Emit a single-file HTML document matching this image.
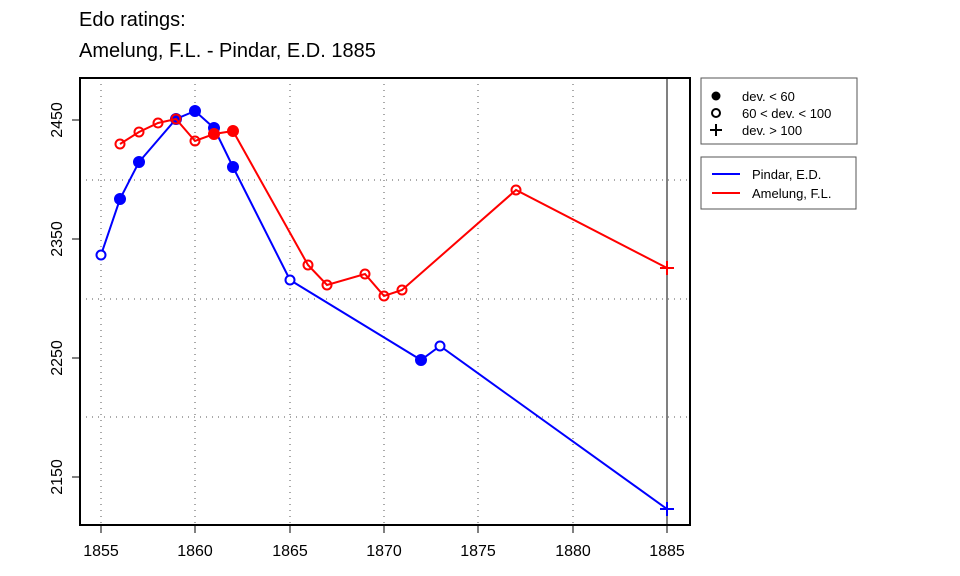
<!DOCTYPE html>
<html><head><meta charset="utf-8"><style>body{margin:0;background:#fff}svg{display:block}</style></head><body>
<svg width="960" height="576" xmlns="http://www.w3.org/2000/svg" font-family="Liberation Sans, sans-serif">
<rect width="960" height="576" fill="#fff"/>
<text x="79" y="26" font-size="20">Edo ratings:</text>
<text x="79" y="57" font-size="20">Amelung, F.L. - Pindar, E.D. 1885</text>
<g stroke="#555" stroke-dasharray="1,5" stroke-width="1">
<line x1="101" y1="78" x2="101" y2="525"/><line x1="195" y1="78" x2="195" y2="525"/><line x1="290" y1="78" x2="290" y2="525"/><line x1="384" y1="78" x2="384" y2="525"/><line x1="478" y1="78" x2="478" y2="525"/><line x1="573" y1="78" x2="573" y2="525"/>
<line x1="80" y1="180" x2="690" y2="180"/><line x1="80" y1="299" x2="690" y2="299"/><line x1="80" y1="417" x2="690" y2="417"/>
</g>
<line x1="667" y1="78" x2="667" y2="525" stroke="#000" stroke-width="1"/>
<rect x="80" y="78" width="610" height="447" fill="none" stroke="#000" stroke-width="2"/>
<g stroke="#000" stroke-width="1">
<line x1="101" y1="525" x2="101" y2="533"/><line x1="195" y1="525" x2="195" y2="533"/><line x1="290" y1="525" x2="290" y2="533"/><line x1="384" y1="525" x2="384" y2="533"/><line x1="478" y1="525" x2="478" y2="533"/><line x1="573" y1="525" x2="573" y2="533"/><line x1="667" y1="525" x2="667" y2="533"/>
<line x1="72" y1="120" x2="80" y2="120"/><line x1="72" y1="239" x2="80" y2="239"/><line x1="72" y1="358" x2="80" y2="358"/><line x1="72" y1="477" x2="80" y2="477"/>
</g>
<g font-size="16" text-anchor="middle">
<text x="101" y="556">1855</text><text x="195" y="556">1860</text><text x="290" y="556">1865</text><text x="384" y="556">1870</text><text x="478" y="556">1875</text><text x="573" y="556">1880</text><text x="667" y="556">1885</text>
<text transform="translate(62,120) rotate(-90)">2450</text><text transform="translate(62,239) rotate(-90)">2350</text><text transform="translate(62,358) rotate(-90)">2250</text><text transform="translate(62,477) rotate(-90)">2150</text>
</g>
<g stroke="#00f" stroke-width="2" fill="#00f">
<polyline fill="none" points="101,255 120,199 139,162 176,119 195,111 214,128 233,167 290,280 421,360 440,346 667,509"/>
<circle cx="101" cy="255" r="4.5" fill="#fff"/><circle cx="120" cy="199" r="5"/><circle cx="139" cy="162" r="5"/><circle cx="176" cy="119" r="5"/><circle cx="195" cy="111" r="5"/><circle cx="214" cy="128" r="5"/><circle cx="233" cy="167" r="5"/><circle cx="290" cy="280" r="4.5" fill="#fff"/><circle cx="421" cy="360" r="5"/><circle cx="440" cy="346" r="4.5" fill="#fff"/>
<path d="M660,509h14M667,502v14" fill="none"/>
</g>
<g stroke="#f00" stroke-width="2" fill="#f00">
<polyline fill="none" points="120,144 139,132 158,123 176,119 195,141 214,134 233,131 308,265 327,285 365,274 384,296 402,290 516,190 667,268"/>
<g fill="none"><circle cx="120" cy="144" r="4.5"/><circle cx="139" cy="132" r="4.5"/><circle cx="158" cy="123" r="4.5"/><circle cx="176" cy="119" r="4.5"/><circle cx="195" cy="141" r="4.5"/><circle cx="308" cy="265" r="4.5"/><circle cx="327" cy="285" r="4.5"/><circle cx="365" cy="274" r="4.5"/><circle cx="384" cy="296" r="4.5"/><circle cx="402" cy="290" r="4.5"/><circle cx="516" cy="190" r="4.5"/></g>
<circle cx="214" cy="134" r="5"/><circle cx="233" cy="131" r="5"/>
<path d="M660,268h14M667,261v14" fill="none"/>
</g>
<rect x="701" y="78" width="156" height="66" fill="#fff" stroke="#555"/>
<circle cx="716" cy="96" r="4.5" fill="#000"/>
<circle cx="716" cy="113" r="4" fill="none" stroke="#000" stroke-width="2"/>
<path d="M710,130h12M716,124v12" stroke="#000" stroke-width="2"/>
<g font-size="13"><text x="742" y="101">dev. &lt; 60</text><text x="742" y="118">60 &lt; dev. &lt; 100</text><text x="742" y="135">dev. &gt; 100</text></g>
<rect x="701" y="157" width="155" height="52" fill="#fff" stroke="#555"/>
<line x1="712" y1="174" x2="740" y2="174" stroke="#00f" stroke-width="2"/>
<line x1="712" y1="193" x2="740" y2="193" stroke="#f00" stroke-width="2"/>
<g font-size="13"><text x="752" y="179">Pindar, E.D.</text><text x="752" y="198">Amelung, F.L.</text></g>
</svg>
</body></html>
